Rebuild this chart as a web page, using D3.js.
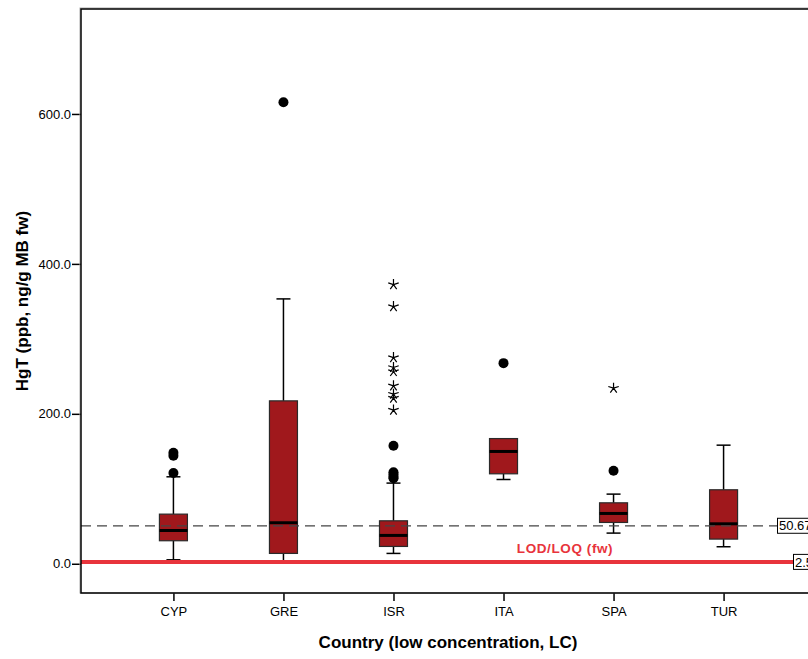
<!DOCTYPE html>
<html>
<head>
<meta charset="utf-8">
<script src="https://cdn.jsdelivr.net/npm/d3@7"></script>
<style>
  html, body { margin: 0; padding: 0; background: #fff; }
  svg { display: block; font-family: Arial, "Liberation Sans", sans-serif; }
</style>
</head>
<body>
<svg id="chart" width="808" height="659"></svg>
<script>
// ---- data ----
const categories = ["CYP", "GRE", "ISR", "ITA", "SPA", "TUR"];
const whiskerLow  = [5.3, 4, 13.8, 112.4, 40.9, 22.7];
const q1          = [30.7, 13.8, 23.1, 120, 55.1, 32.9];
const median      = [44.4, 54.7, 37.8, 149.8, 67.1, 53.3];
const q3          = [66.2, 217.3, 57.3, 167, 81.3, 98.7];
const whiskerHigh = [116, 353.3, 107.6, 167, 92.9, 158.2];
const outliers = [
  [148, 144, 121],
  [615.6],
  [157.3, 122, 119, 116, 114],
  [267.6],
  [124],
  []
];
const extremes = [
  [],
  [],
  [372.4, 343, 275, 261.8, 256.4, 237.3, 226.2, 221, 205],
  [],
  [234.2],
  []
];
const yTicks = [0, 200, 400, 600];
const meanRef = 50.67;
const lodRef = 2.5;
const lodLabel = "LOD/LOQ (fw)";
const xTitle = "Country (low concentration, LC)";
const yTitle = "HgT (ppb, ng/g MB fw)";

// ---- layout ----
const svg = d3.select("#chart");
const pLeft = 81, pRight = 816, pTop = 9, pBottom = 593;
const x = d3.scalePoint().domain(categories).range([pLeft, pRight]).padding(0.84);
const y = d3.scaleLinear().domain([-39, 740]).range([pBottom, pTop]);
const boxW = 28, capW = 14;
const red = "#e8343c";
const boxFill = "#a0181c";

const rows = categories.map((c, i) => ({
  c, lo: whiskerLow[i], q1: q1[i], med: median[i], q3: q3[i], hi: whiskerHigh[i],
  out: outliers[i], ext: extremes[i]
}));

const g = svg.append("g");

// boxes
const b = g.selectAll("g.box").data(rows).join("g").attr("class", "box");
b.filter(d => d.hi > d.q3).append("line")
  .attr("x1", d => x(d.c)).attr("x2", d => x(d.c))
  .attr("y1", d => y(d.q3)).attr("y2", d => y(d.hi))
  .attr("stroke", "#000").attr("stroke-width", 1.5);
b.filter(d => d.hi > d.q3).append("line")
  .attr("x1", d => x(d.c) - capW / 2).attr("x2", d => x(d.c) + capW / 2)
  .attr("y1", d => y(d.hi)).attr("y2", d => y(d.hi))
  .attr("stroke", "#000").attr("stroke-width", 1.5);
b.filter(d => d.lo < d.q1).append("line")
  .attr("x1", d => x(d.c)).attr("x2", d => x(d.c))
  .attr("y1", d => y(d.q1)).attr("y2", d => y(d.lo))
  .attr("stroke", "#000").attr("stroke-width", 1.5);
b.filter(d => d.lo < d.q1).append("line")
  .attr("x1", d => x(d.c) - capW / 2).attr("x2", d => x(d.c) + capW / 2)
  .attr("y1", d => y(d.lo)).attr("y2", d => y(d.lo))
  .attr("stroke", "#000").attr("stroke-width", 1.5);
b.append("rect")
  .attr("x", d => x(d.c) - boxW / 2).attr("width", boxW)
  .attr("y", d => y(d.q3)).attr("height", d => y(d.q1) - y(d.q3))
  .attr("fill", boxFill).attr("stroke", "#2a2a2a").attr("stroke-width", 1.2);
b.append("line")
  .attr("x1", d => x(d.c) - boxW / 2).attr("x2", d => x(d.c) + boxW / 2)
  .attr("y1", d => y(d.med)).attr("y2", d => y(d.med))
  .attr("stroke", "#000").attr("stroke-width", 3);
b.selectAll("circle").data(d => d.out.map(v => ({ c: d.c, v }))).join("circle")
  .attr("cx", d => x(d.c)).attr("cy", d => y(d.v)).attr("r", 5).attr("fill", "#000");
const starR = 5.5;
const starPath = (() => {
  let p = "";
  for (let k = 0; k < 5; k++) {
    const a = -Math.PI / 2 + k * 2 * Math.PI / 5;
    p += `M0,0L${(starR * Math.cos(a)).toFixed(2)},${(starR * Math.sin(a)).toFixed(2)}`;
  }
  return p;
})();
b.selectAll("path.star").data(d => d.ext.map(v => ({ c: d.c, v }))).join("path")
  .attr("class", "star")
  .attr("transform", d => `translate(${x(d.c)},${y(d.v)})`)
  .attr("d", starPath)
  .attr("fill", "none").attr("stroke", "#000").attr("stroke-width", 1.2);

// reference lines
const meanLabelX = 777.5, lodLabelX = 793.5;
g.append("line")
  .attr("x1", pLeft).attr("x2", meanLabelX)
  .attr("y1", y(meanRef)).attr("y2", y(meanRef))
  .attr("stroke", "#444").attr("stroke-width", 1.3).attr("stroke-dasharray", "10,6");
g.append("line")
  .attr("x1", pLeft).attr("x2", lodLabelX)
  .attr("y1", y(lodRef)).attr("y2", y(lodRef))
  .attr("stroke", red).attr("stroke-width", 4);

function refLabel(xp, v, txt) {
  const t = g.append("text").attr("x", xp + 1.5).attr("y", y(v)).attr("dy", "0.36em")
    .attr("font-size", 13).attr("fill", "#000").text(txt);
  const w = t.node().getComputedTextLength();
  g.insert("rect", () => t.node())
    .attr("x", xp).attr("y", y(v) - 7.5).attr("width", w + 3).attr("height", 15)
    .attr("fill", "#fff").attr("stroke", "#000").attr("stroke-width", 1);
}
refLabel(meanLabelX, meanRef, meanRef.toFixed(2));
refLabel(lodLabelX, lodRef, String(lodRef));

g.append("text").attr("x", 565).attr("y", 553).attr("text-anchor", "middle")
  .attr("font-size", 13.5).attr("font-weight", "bold").attr("fill", red)
  .attr("letter-spacing", 0.6).text(lodLabel);

// axes
const yAxis = d3.axisLeft(y).tickValues(yTicks).tickFormat(d3.format(".1f")).tickSize(9).tickPadding(1);
const ya = svg.append("g").attr("transform", `translate(${pLeft},0)`).call(yAxis);
ya.select(".domain").remove();
ya.selectAll("text").attr("font-size", 13).attr("font-family", "Arial, 'Liberation Sans', sans-serif").attr("fill", "#000");
ya.selectAll("line").attr("stroke", "#000").attr("stroke-width", 1.5);

const xAxis = d3.axisBottom(x).tickSize(8).tickPadding(6);
const xa = svg.append("g").attr("transform", `translate(0,${pBottom})`).call(xAxis);
xa.select(".domain").remove();
xa.selectAll("text").attr("font-size", 13).attr("font-family", "Arial, 'Liberation Sans', sans-serif").attr("fill", "#000");
xa.selectAll("line").attr("stroke", "#000").attr("stroke-width", 1.5);

// frame
svg.append("rect").attr("x", pLeft - 1).attr("y", pTop - 1).attr("width", pRight - pLeft + 20).attr("height", pBottom - pTop + 1)
  .attr("fill", "none").attr("stroke", "#aaa").attr("stroke-width", 1);
svg.append("rect").attr("x", pLeft).attr("y", pTop).attr("width", pRight - pLeft + 20).attr("height", pBottom - pTop)
  .attr("fill", "none").attr("stroke", "#000").attr("stroke-width", 1.5);

// titles
svg.append("text").attr("x", 448).attr("y", 648).attr("text-anchor", "middle")
  .attr("font-size", 17).attr("font-weight", "bold").text(xTitle);
svg.append("text").attr("transform", "translate(28,301) rotate(-90)").attr("text-anchor", "middle")
  .attr("font-size", 17).attr("font-weight", "bold").text(yTitle);
</script>
</body>
</html>
